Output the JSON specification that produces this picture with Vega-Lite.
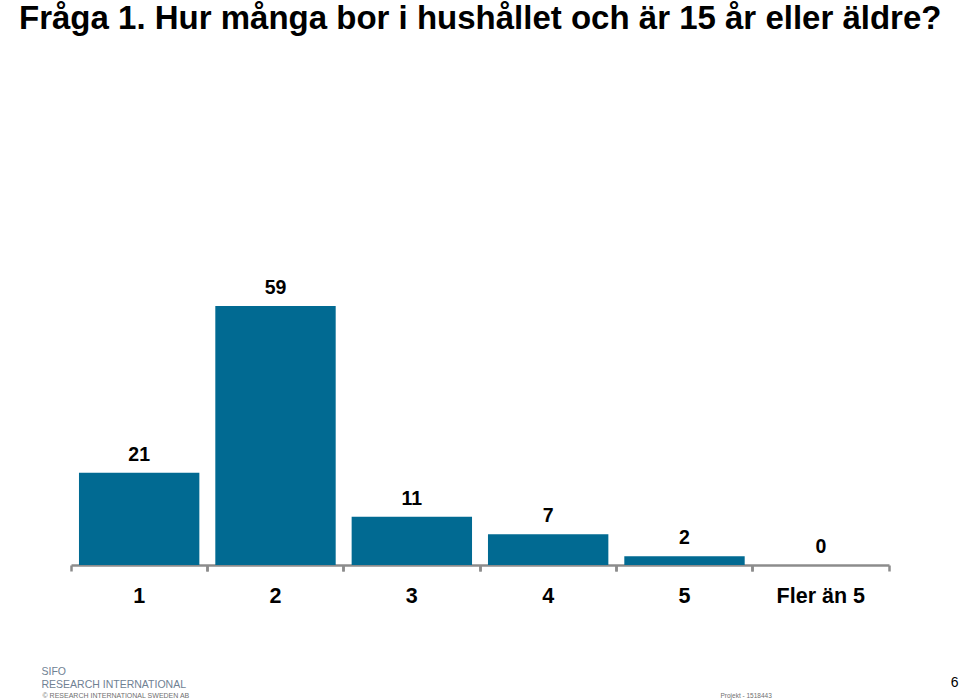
{
  "$schema": "https://vega.github.io/schema/vega-lite/v6.json",
  "autosize": "none",
  "width": 818,
  "height": 520,
  "padding": {"left": 71, "top": 45, "right": 70, "bottom": 135},
  "background": "white",
  "title": {
    "text": "Fråga 1. Hur många bor i hushållet och är 15 år eller äldre?",
    "anchor": "start",
    "frame": "group",
    "dx": -52,
    "dy": 35,
    "offset": 18,
    "baseline": "alphabetic",
    "font": "Liberation Sans",
    "fontSize": 33,
    "fontWeight": "bold",
    "color": "#000000"
  },
  "data": {
    "values": [
      {"svar": "1", "procent": 21},
      {"svar": "2", "procent": 59},
      {"svar": "3", "procent": 11},
      {"svar": "4", "procent": 7},
      {"svar": "5", "procent": 2},
      {"svar": "Fler än 5", "procent": 0}
    ]
  },
  "config": {
    "view": {"stroke": null},
    "axis": {"grid": false}
  },
  "layer": [
    {
      "mark": {"type": "bar", "color": "#016A92", "width": {"band": 0.883}},
      "encoding": {
        "x": {
          "field": "svar",
          "type": "nominal",
          "sort": null,
          "scale": {"paddingInner": 0, "paddingOuter": 0},
          "axis": {
            "orient": "bottom",
            "bandPosition": 0,
            "labelAngle": 0,
            "labelFont": "Liberation Sans",
            "labelFontSize": 21.5,
            "labelFontWeight": "bold",
            "labelColor": "#000000",
            "labelPadding": 14,
            "tickSize": 6,
            "tickWidth": 2.5,
            "tickColor": "#8C8C8C",
            "domainColor": "#8C8C8C",
            "domainWidth": 2.5,
            "title": "© RESEARCH INTERNATIONAL SWEDEN AB",
            "titleX": -29,
            "titleY": 132,
            "titleAlign": "left",
            "titleAnchor": null,
            "titleBaseline": "alphabetic",
            "titleFont": "Liberation Sans",
            "titleFontSize": 7,
            "titleFontWeight": "normal",
            "titleColor": "#707070"
          }
        },
        "y": {
          "field": "procent",
          "type": "quantitative",
          "scale": {"domain": [0, 118.4], "nice": false},
          "axis": {
            "orient": "left",
            "domain": false,
            "ticks": false,
            "labels": false,
            "title": ["SIFO", "RESEARCH INTERNATIONAL"],
            "titleAngle": 0,
            "titleX": -30,
            "titleY": 629,
            "titleAlign": "left",
            "titleAnchor": null,
            "titleBaseline": "alphabetic",
            "titleLineHeight": 13,
            "titleFont": "Liberation Sans",
            "titleFontSize": 10.5,
            "titleFontWeight": "normal",
            "titleColor": "#6F8193"
          }
        }
      }
    },
    {
      "mark": {
        "type": "text",
        "baseline": "alphabetic",
        "dy": -12,
        "font": "Liberation Sans",
        "fontSize": 19.5,
        "fontWeight": "bold",
        "color": "#000000"
      },
      "encoding": {
        "x": {
          "field": "svar",
          "type": "nominal",
          "sort": null,
          "axis": {
            "orient": "bottom",
            "bandPosition": 1,
            "domain": false,
            "labels": false,
            "tickSize": 6,
            "tickWidth": 2.5,
            "tickColor": "#8C8C8C",
            "title": "Projekt - 1518443",
            "titleX": 649,
            "titleY": 132,
            "titleAlign": "left",
            "titleAnchor": null,
            "titleBaseline": "alphabetic",
            "titleFont": "Liberation Sans",
            "titleFontSize": 6.5,
            "titleFontWeight": "normal",
            "titleColor": "#707070"
          }
        },
        "y": {
          "field": "procent",
          "type": "quantitative",
          "axis": {
            "orient": "right",
            "domain": false,
            "ticks": false,
            "labels": false,
            "title": "6",
            "titleAngle": 0,
            "titleX": 69,
            "titleY": 641,
            "titleAlign": "right",
            "titleAnchor": null,
            "titleBaseline": "alphabetic",
            "titleFont": "Liberation Sans",
            "titleFontSize": 14,
            "titleFontWeight": "normal",
            "titleColor": "#000000"
          }
        },
        "text": {"field": "procent", "type": "quantitative"}
      }
    }
  ],
  "resolve": {"axis": {"x": "independent", "y": "independent"}}
}
